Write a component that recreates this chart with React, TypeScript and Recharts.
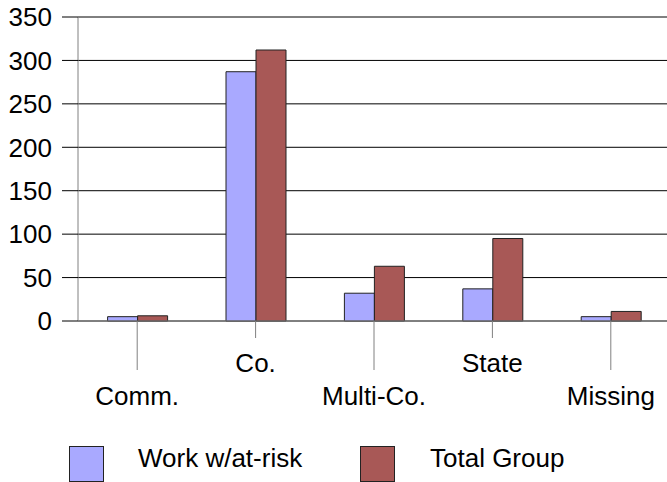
import React from 'react';
import { BarChart, Bar, XAxis, YAxis, CartesianGrid, Legend } from 'recharts';

const categories = ['Comm.', 'Co.', 'Multi-Co.', 'State', 'Missing'];
const workAtRisk = [5, 287, 32, 37, 5];
const totalGroup = [6, 312, 63, 95, 11];
const yTicks = [0, 50, 100, 150, 200, 250, 300, 350];
const seriesNames = ['Work w/at-risk', 'Total Group'];
const seriesColors = ['#A9A9FF', '#A85856'];

const data = categories.map((c, i) => ({
  name: c,
  work: workAtRisk[i],
  total: totalGroup[i],
}));

const FONT = '"Liberation Sans", Arial, sans-serif';

const XTick = (props: any) => {
  const { x, y, payload, index } = props;
  const idx = typeof index === 'number' ? index : categories.indexOf(payload.value);
  const low = idx % 2 === 0;
  const len = low ? 49 : 17;
  return (
    <g>
      <line x1={x} x2={x} y1={y} y2={y + len} stroke="#808080" strokeWidth={1} />
      <text
        x={x}
        y={y + (low ? 84 : 51)}
        textAnchor="middle"
        fontSize={26}
        fontFamily={FONT}
        fill="#000"
      >
        {payload.value}
      </text>
    </g>
  );
};

const LegendContent = () => {
  const items = [
    { sx: 69, tx: 138 },
    { sx: 360, tx: 430 },
  ];
  return (
    <svg width={667} height={50} style={{ display: 'block' }}>
      {items.map((it, i) => (
        <g key={i}>
          <rect x={it.sx + 0.5} y={14.5} width={34} height={35} fill={seriesColors[i]} stroke="#222" strokeWidth={1} />
          <text x={it.tx} y={35} fontSize={26} fontFamily={FONT} fill="#000">
            {seriesNames[i]}
          </text>
        </g>
      ))}
    </svg>
  );
};

export default function App() {
  return (
    <div style={{ position: 'absolute', left: 0, top: 0, width: 667, height: 482, overflow: 'hidden', background: '#fff' }}>
      <BarChart
        width={672}
        height={482}
        data={data}
        margin={{ top: 17, right: 2, left: 0, bottom: 0 }}
        barCategoryGap="25%"
        barGap={0}
        style={{ fontFamily: FONT }}
      >
        <CartesianGrid vertical={false} stroke="#000" />
        <XAxis
          dataKey="name"
          interval={0}
          height={111}
          tickLine={false}
          tickSize={0}
          tickMargin={0}
          axisLine={{ stroke: '#808080' }}
          tick={<XTick />}
        />
        <YAxis
          width={78}
          domain={[0, 350]}
          ticks={yTicks}
          interval={0}
          tickSize={16}
          tickMargin={10}
          axisLine={{ stroke: '#808080' }}
          tickLine={{ stroke: '#000' }}
          tick={{ fill: '#000', fontSize: 26, fontFamily: FONT }}
        />
        <Legend
          verticalAlign="bottom"
          height={50}
          content={<LegendContent />}
          wrapperStyle={{ left: 0, width: 667, height: 50 }}
        />
        <Bar dataKey="work" name={seriesNames[0]} fill={seriesColors[0]} stroke="#222" strokeWidth={1} isAnimationActive={false} />
        <Bar dataKey="total" name={seriesNames[1]} fill={seriesColors[1]} stroke="#222" strokeWidth={1} isAnimationActive={false} />
      </BarChart>
    </div>
  );
}
